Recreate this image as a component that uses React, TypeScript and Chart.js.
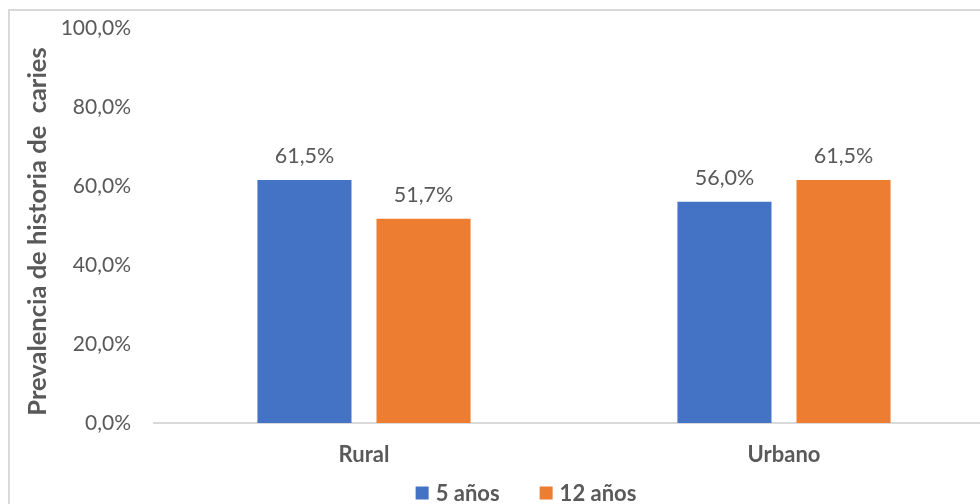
import React, { useEffect, useRef } from "react";
import { Chart, registerables } from "chart.js";

Chart.register(...registerables);

const categories = ["Rural", "Urbano"];
const series5 = [61.5, 56.0];
const series12 = [51.7, 61.5];
const seriesNames = ["5 años", "12 años"];
const seriesColors = ["#4472C4", "#ED7D31"];
const yTicks = [0, 20, 40, 60, 80, 100];
const yTitle = "Prevalencia de historia de  caries";

const FONT = "Lato, 'Open Sans', sans-serif";
const GRAY = "#595959";

const fmt = (v: number) => v.toFixed(1).replace(".", ",") + "%";

const dataLabels = {
  id: "dataLabels",
  afterDatasetsDraw(chart: any) {
    const ctx = chart.ctx;
    ctx.save();
    ctx.font = `21.5px ${FONT}`;
    ctx.fillStyle = GRAY;
    ctx.textAlign = "center";
    ctx.textBaseline = "bottom";
    chart.data.datasets.forEach((ds: any, i: number) => {
      const meta = chart.getDatasetMeta(i);
      meta.data.forEach((bar: any, j: number) => {
        ctx.fillText(fmt(ds.data[j]), bar.x, bar.y - 13);
      });
    });
    ctx.restore();
  },
};

const axisTitle = {
  id: "axisTitle",
  afterDraw(chart: any) {
    const ctx = chart.ctx;
    const area = chart.chartArea;
    ctx.save();
    ctx.font = `bold 25.5px ${FONT}`;
    ctx.fillStyle = GRAY;
    ctx.textAlign = "center";
    ctx.textBaseline = "middle";
    ctx.translate(38, (area.top + area.bottom) / 2 + 6);
    ctx.rotate(-Math.PI / 2);
    ctx.fillText(yTitle, 0, 0);
    ctx.restore();
  },
};

const bottomLegend = {
  id: "bottomLegend",
  afterDraw(chart: any) {
    const ctx = chart.ctx;
    ctx.save();
    ctx.font = `bold 22px ${FONT}`;
    ctx.textBaseline = "middle";
    ctx.textAlign = "left";
    const box = 13;
    const gapText = 7;
    const gapItem = 40;
    const items = chart.data.datasets.map((ds: any) => ({
      text: ds.label,
      color: ds.backgroundColor,
      w: box + gapText + ctx.measureText(ds.label).width,
    }));
    const total = items.reduce((a: number, it: any) => a + it.w, 0) + gapItem * (items.length - 1);
    const cy = 493;
    let x = 526 - total / 2;
    items.forEach((it: any) => {
      ctx.fillStyle = it.color;
      ctx.fillRect(x, cy - box / 2, box, box);
      ctx.fillStyle = GRAY;
      ctx.fillText(it.text, x + box + gapText, cy + 1);
      x += it.w + gapItem;
    });
    ctx.restore();
  },
};

export default function App() {
  const ref = useRef<HTMLCanvasElement>(null);
  useEffect(() => {
    document.body.style.margin = "0";
    document.body.style.overflow = "hidden";
    const chart = new Chart(ref.current!, {
      type: "bar",
      data: {
        labels: categories,
        datasets: [
          { label: seriesNames[0], data: series5, backgroundColor: seriesColors[0] },
          { label: seriesNames[1], data: series12, backgroundColor: seriesColors[1] },
        ],
      },
      options: {
        responsive: false,
        animation: false,
        devicePixelRatio: 1,
        layout: { padding: { left: 20, right: 6, top: 28, bottom: 0 } },
        datasets: { bar: { categoryPercentage: 0.567, barPercentage: 0.79 } },
        plugins: {
          legend: { display: false },
          tooltip: { enabled: false },
        },
        scales: {
          x: {
            grid: { display: false, drawTicks: false },
            border: { display: true, color: "#d9d9d9", width: 2 },
            ticks: {
              font: { family: FONT, size: 22, weight: "bold" },
              color: GRAY,
              padding: 19,
            },
            afterFit: (s: any) => {
              s.height = 81;
              s.paddingLeft = 0;
              s.paddingRight = 0;
            },
          },
          y: {
            min: 0,
            max: 100,
            grid: { display: false, drawTicks: false },
            border: { display: false },
            afterBuildTicks: (s: any) => {
              s.ticks = yTicks.map((v) => ({ value: v }));
            },
            ticks: {
              font: { family: FONT, size: 21 },
              color: GRAY,
              padding: 23,
              callback: (v: any) => fmt(Number(v)),
            },
            afterFit: (s: any) => {
              s.width = 134;
              s.paddingTop = 0;
              s.paddingBottom = 0;
            },
          },
        },
      },
      plugins: [dataLabels, axisTitle, bottomLegend],
    });
    return () => chart.destroy();
  }, []);
  return (
    <div style={{ position: "relative", width: 1000, height: 504, overflow: "hidden" }}>
      <div
        style={{
          position: "absolute",
          left: 8,
          top: 9,
          width: 1000,
          height: 520,
          border: "2px solid #d9d9d9",
          boxSizing: "border-box",
        }}
      />
      <canvas ref={ref} width={1000} height={504} style={{ position: "absolute", left: 0, top: 0 }} />
    </div>
  );
}
